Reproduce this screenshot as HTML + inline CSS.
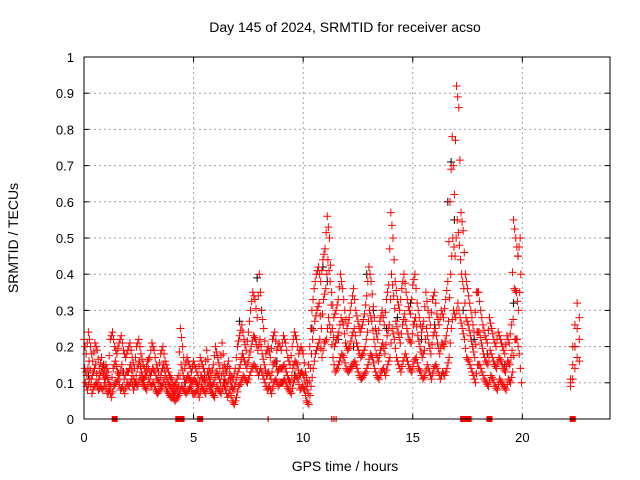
<!DOCTYPE html>
<html><head><meta charset="utf-8">
<style>
html,body{margin:0;padding:0;background:#fff;}
svg{display:block;font-family:"Liberation Sans",sans-serif;}
</style></head>
<body>
<svg id="chart" width="640" height="480">
  <text x="345" y="32" text-anchor="middle" font-size="14">Day 145 of 2024, SRMTID for receiver acso</text>
  <text x="18" y="238" text-anchor="middle" font-size="14" transform="rotate(-90 18 238)">SRMTID / TECUs</text>
  <text x="345" y="471" text-anchor="middle" font-size="14">GPS time / hours</text>
  <g id="grid"></g><g id="ticks"></g><g id="black"></g><g id="red"></g><g id="flags"></g>
  <rect x="84" y="57" width="526" height="362" fill="none" stroke="#000" stroke-width="1"/>
</svg>
<script>
const xTicks=[0,5,10,15,20];
const yTicks=[0,0.1,0.2,0.3,0.4,0.5,0.6,0.7,0.8,0.9,1];
const yTickLabels=["0","0.1","0.2","0.3","0.4","0.5","0.6","0.7","0.8","0.9","1"];
const redStart=0, redStep=0.1;
const redA=[22,18,24,20,16,21,19,14,17,12,15,13,22,24,20,18,21,23,19,17,19,21,17,14,20,22,18,15,13,16,17,21,19,15,13,18,20,16,14,12,11,9,10,12,25,20,14,17,15,13,16,14,12,17,15,13,19,14,12,15,20,17,14,21,15,13,16,12,11,14,20,23,26,22,19,24,30,35,33,28,40,30,25,18,20,17,22,24,19,21,19,23,21,17,15,20,24,22,18,20,18,13,10,20,30,36,40,42,38,44,47,56,50,35,28,30,33,40,36,30,25,28,32,36,30,27,24,26,29,34,42,38,31,25,22,27,30,26,33,37,57,50,38,33,30,36,40,35,31,29,37,40,32,28,24,27,35,30,26,33,35,29,26,30,28,33,38,60,78,62,92,86,57,52,40,36,32,28,24,35,35,30,26,23,21,28,25,22,20,24,22,20,18,23,21,26,55,50,45,50];
const redB=[14,12,16,11,13,15,10,12,14,11,12,10,9,14,16,13,12,15,11,13,13,15,12,10,14,16,13,11,12,14,12,14,13,11,10,13,15,12,10,9,8,7,8,9,15,12,10,12,11,10,11,10,9,12,11,10,13,11,9,10,13,12,10,14,11,9,12,9,8,10,13,15,18,16,14,17,20,23,22,19,22,18,15,12,13,11,15,16,13,14,14,15,13,11,10,14,16,15,12,13,12,9,7,14,22,27,30,32,25,33,36,44,38,25,20,22,24,28,26,21,19,20,23,25,21,19,17,18,20,24,30,27,22,18,16,19,21,18,23,26,40,34,27,24,21,26,29,25,22,21,26,28,23,20,17,19,25,21,18,23,25,21,18,21,20,23,27,40,50,45,55,48,40,36,28,26,23,20,17,24,24,21,18,16,15,19,17,15,14,17,16,14,13,16,15,19,36,35,30,40];
const redC=[10,8,11,7,9,10,8,9,8,10,7,8,6,9,10,11,8,9,7,10,9,11,8,10,9,12,10,9,8,11,9,10,8,7,8,9,11,8,7,6,6,5,6,7,9,8,7,8,9,7,7,8,6,9,8,7,10,8,7,6,9,8,7,10,8,6,8,5,4,6,9,10,12,11,10,12,14,15,14,12,14,12,10,8,9,7,10,11,9,10,10,11,9,8,7,10,12,11,8,9,8,5,4,9,14,18,20,22,17,21,22,28,24,17,13,14,16,18,17,14,13,14,15,16,14,12,11,12,13,15,18,17,14,12,11,13,14,12,15,17,25,22,17,15,13,16,18,16,14,13,16,17,14,13,11,12,15,13,11,14,15,13,11,13,12,14,17,25,30,28,32,28,25,22,17,16,14,12,10,15,15,13,11,10,9,12,11,9,8,11,10,9,8,11,10,13,22,22,18,10];
const lateTimes=[22.2,22.3,22.4,22.5,22.6];
const lateA=[11,20,26,32,28];
const lateB=[10,15,20,25,22];
const lateC=[9,11,14,17,16];
const blackTimes=[0.2,0.9,1.8,2.7,3.5,4.6,5.5,6.4,7.1,7.9,8.1,8.8,9.6,10.4,10.9,11.1,11.6,12.3,12.9,13.2,13.8,14.3,14.9,15.4,16.0,16.6,16.75,16.9,17.3,17.8,18.4,19.2,19.6,19.8,22.4];
const blackVals=[12,15,13,11,9,10,12,10,27,39,30,16,12,25,42,38,22,20,40,30,25,28,32,22,26,60,71,55,30,22,18,15,32,45,20];
const flagTimes=[1.4,4.3,4.45,5.3,8.4,11.3,11.4,11.5,17.3,17.55,18.5,22.3];
const flagKinds=[1,1,1,1,0,0,0,0,1,1,1,1];

const NS="http://www.w3.org/2000/svg";
const X0=84,X1=610,Y0=419,Y1=57,XMAX=24;
function sx(t){return X0+(t/XMAX)*(X1-X0);}
function sy(v){return Y0-v*(Y0-Y1);}
function mk(tag,attrs,parent){const e=document.createElementNS(NS,tag);for(const k in attrs)e.setAttribute(k,attrs[k]);parent.appendChild(e);return e;}
const grid=document.getElementById('grid'),ticks=document.getElementById('ticks');
yTicks.forEach((v,i)=>{
  const y=sy(v);
  if(i>0&&i<yTicks.length-1){const g=mk('line',{x1:X0,x2:X1,y1:y,y2:y,stroke:'#a0a0a0','stroke-dasharray':'2,3'},grid);
  
  }
  mk('line',{x1:X0,x2:X0+5,y1:y,y2:y,stroke:'#000'},ticks);
  mk('line',{x1:X1,x2:X1-5,y1:y,y2:y,stroke:'#000'},ticks);
  const t=mk('text',{x:X0-10,y:y+5,'text-anchor':'end','font-size':13},ticks);
  t.textContent=yTickLabels[i];
  
  
});
xTicks.forEach(v=>{
  const x=sx(v);
  if(v>0){const g=mk('line',{x1:x,x2:x,y1:Y0,y2:Y1,stroke:'#a0a0a0','stroke-dasharray':'2,3'},grid);
  
  }
  mk('line',{x1:x,x2:x,y1:Y0,y2:Y0-5,stroke:'#000'},ticks);
  mk('line',{x1:x,x2:x,y1:Y1,y2:Y1+5,stroke:'#000'},ticks);
  const t=mk('text',{x:x,y:Y0+23,'text-anchor':'middle','font-size':13},ticks);
  t.textContent=String(v);
  
  
});
function plus(t,v,color,parent,name){
  const x=sx(t),y=sy(v);
  const p=mk('path',{d:`M${x-4},${y}h8M${x},${y-4}v8`,stroke:color,'stroke-width':1,fill:'none'},parent);
  
  
}
const black=document.getElementById('black'),red=document.getElementById('red');
blackTimes.forEach((t,i)=>plus(t,blackVals[i]/100,'#000',black,'black-point'));
[redA,redB,redC].forEach((arr,k)=>arr.forEach((v,i)=>{
  plus(redStart+i*redStep+k*0.03,v/100,'#f00',red,'red-point');
  if(i+1<arr.length){plus(redStart+i*redStep+0.05+k*0.03,(v+arr[i+1])/200,'#f00',red,'red-point');}
}));
[lateA,lateB,lateC].forEach(arr=>arr.forEach((v,i)=>plus(lateTimes[i],v/100,'#f00',red,'red-point')));
const flags=document.getElementById('flags');
flagTimes.forEach((t,i)=>{
  const x=sx(t);
  const r=flagKinds[i]?mk('rect',{x:x-3,y:Y0-3,width:6,height:6,fill:'#f00'},flags):mk('rect',{x:x-0.5,y:Y0-3,width:1.2,height:6,fill:'#f00'},flags);
  
  
});
</script>
</body></html>
